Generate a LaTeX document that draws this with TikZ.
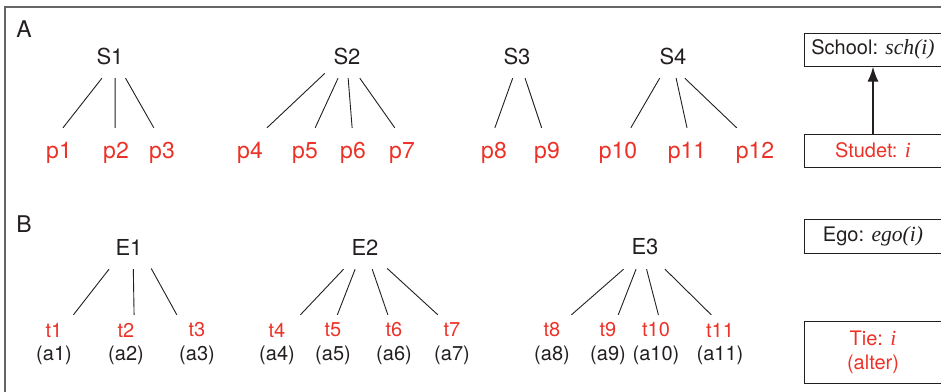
\documentclass[tikz,border=0pt]{standalone}
\usepackage{fontspec}
\setmainfont{TeX Gyre Heros}
\newfontfamily\serifit{Liberation Serif}[Scale=1.08]
\usetikzlibrary{arrows.meta}
\definecolor{tiered}{RGB}{236,50,40}
\definecolor{ink}{RGB}{35,31,32}

\begin{document}
\begin{tikzpicture}[>={Latex[length=15pt,width=11pt]},x=1pt,y=-1pt,
  parent/.style={font=\fontsize{22}{26}\selectfont,text=ink,inner sep=0pt,
    minimum width=44pt,minimum height=44pt},
  pupil/.style={font=\fontsize{23}{27}\selectfont,text=tiered,inner sep=0pt,
    minimum width=50pt,minimum height=50pt},
  tie/.style={font=\fontsize{20}{24}\selectfont,text=tiered,inner sep=0pt,
    minimum width=60pt,minimum height=30pt},
  alter/.style={font=\fontsize{20}{24}\selectfont,text=ink,inner sep=0pt},
  branch/.style={ink,line width=0.9pt},
  keybox/.style={draw=ink,line width=1pt,font=\fontsize{20}{24}\selectfont,
    text=ink,inner sep=0pt,minimum width=138pt,minimum height=33pt,align=center}]
  \path[use as bounding box] (0,0) rectangle (941,391);
  \clip (0,0) rectangle (941,391);
  \draw[black!60,line width=1.3pt] (5,7) rectangle (990,420);

  % panel A: schools and students
  \node[font=\fontsize{23}{27}\selectfont,text=ink] (panelA) at (24,29) {A};
  \foreach \n/\x in {1/110,2/347,3/517,4/673}
    \node[parent] (s\n) at (\x,56) {S\n};
  \foreach \n/\x in {1/59,2/116,3/162,4/250,5/305,6/353,7/402,8/494,9/547,
      10/618,11/687,12/755}
    \node[pupil] (p\n) at (\x,153) {p\n};
  \foreach \s/\c/\u/\v in {s1/p1/250/81,s1/p2/283/92,s1/p3/305/108,
      s2/p4/218/56,s2/p5/248/68,s2/p6/273/92,s2/p7/300/106,
      s3/p8/259/88,s3/p9/290/102,
      s4/p10/239/63,s4/p11/278/90,s4/p12/298/126}
    \draw[branch] (\s.\u) -- (\c.\v);

  % panel B: egos, ties and alters
  \node[font=\fontsize{23}{27}\selectfont,text=ink] (panelB) at (24,224) {B};
  \foreach \n/\x in {1/129,2/365,3/645}
    \node[parent] (e\n) at (\x,247) {E\n};
  \foreach \n/\x in {1/54,2/126,3/197,4/277,5/333,6/394,7/452,8/552,9/608,
      10/656,11/720} {
    \node[tie] (t\n) at (\x,330) {t\n};
    \node[alter] (a\n) at (\x,355) {(a\n)};
  }
  \foreach \s/\c/\u/\v in {e1/t1/228/38,e1/t2/281/62,e1/t3/316/143,
      e2/t4/226/33,e2/t5/246/74,e2/t6/288/112,e2/t7/316/133,
      e3/t8/226/38,e3/t9/248/56,e3/t10/274/81,e3/t11/312/120}
    \draw[branch] (\s.\u) -- (\c.\v);

  % key on the right
  \node[keybox] (school) at (873,49.5) {School: {\serifit\itshape sch(i)}};
  \node[keybox,text=tiered] (student) at (873,150.5) {Studet: {\serifit\itshape i}};
  \draw[->,ink,line width=2pt] (student) -- (school);
  \node[keybox,minimum height=34pt] (ego) at (873,236) {Ego: {\serifit\itshape ego(i)}};
  \node[keybox,text=tiered,minimum height=62pt] (tiekey) at (873,352)
    {Tie: {\serifit\itshape i}\\(alter)};
\end{tikzpicture}
\end{document}
